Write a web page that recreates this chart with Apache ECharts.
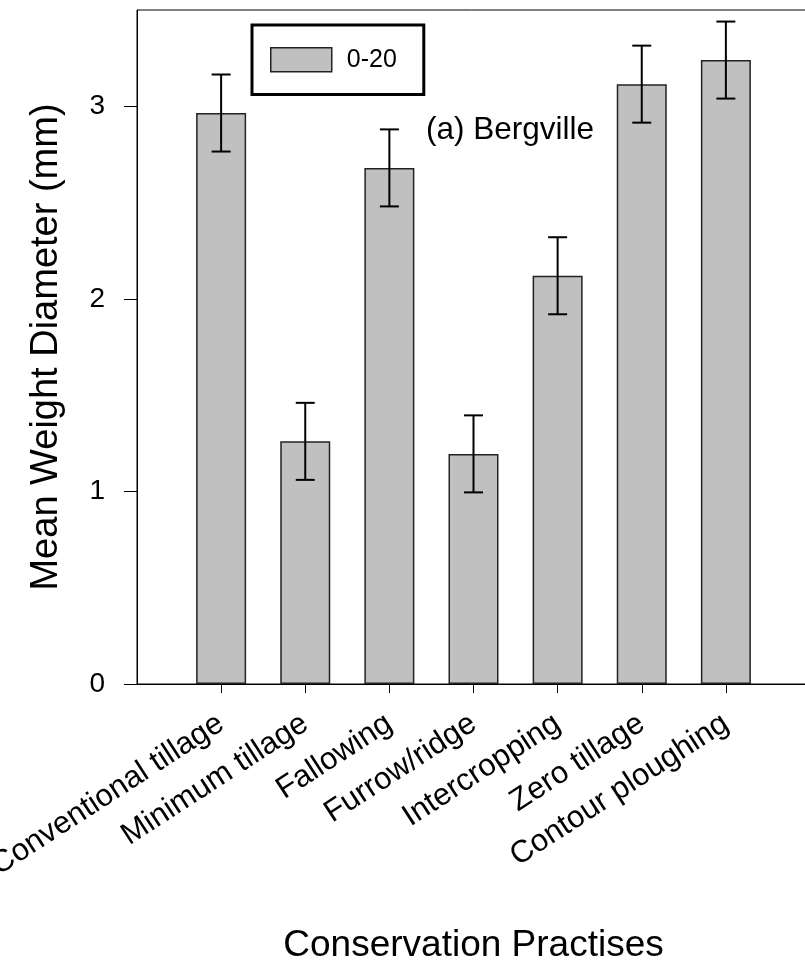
<!DOCTYPE html>
<html>
<head>
<meta charset="utf-8">
<script src="https://cdn.jsdelivr.net/npm/echarts@6/dist/echarts.min.js"></script>
<style>
  html, body { margin: 0; padding: 0; background: #fff; }
  #chart { width: 805px; height: 961px; }
</style>
</head>
<body>
<div id="chart"></div>
<script>
var categories = ['Conventional tillage', 'Minimum tillage', 'Fallowing', 'Furrow/ridge',
                  'Intercropping', 'Zero tillage', 'Contour ploughing'];
var positions = [1, 2, 3, 4, 5, 6, 7];
var mwd = [2.965, 1.26, 2.68, 1.195, 2.12, 3.115, 3.24];
var errs = [0.2, 0.2, 0.2, 0.2, 0.2, 0.2, 0.2];
var yTicks = [0, 1, 2, 3];

var fontFam = '"Liberation Sans", Arial, sans-serif';

var barData = positions.map(function (p, i) { return [p, mwd[i]]; });
var errData = positions.map(function (p, i) { return [p, mwd[i] - errs[i], mwd[i] + errs[i]]; });

var chart = echarts.init(document.getElementById('chart'));

var option = {
    backgroundColor: '#fff',
    animation: false,
    grid: {
        left: 137,
        top: 10,
        right: -5,
        bottom: 277,
        containLabel: false,
        outerBoundsMode: 'none',
        show: true,
        borderColor: '#000',
        borderWidth: 1
    },
    legend: {
        left: 252,
        top: 25,
        padding: [22, 27, 22, 18],
        borderColor: '#000',
        borderWidth: 3,
        itemWidth: 61,
        itemHeight: 24,
        icon: 'rect',
        itemStyle: { color: '#c0c0c0', borderColor: '#222', borderWidth: 1.5 },
        textStyle: { fontSize: 25, color: '#000', fontFamily: fontFam, padding: [0, 0, 0, 10] },
        data: ['0-20']
    },
    graphic: [{
        type: 'text',
        left: 426,
        top: 114,
        style: { text: '(a) Bergville', fontSize: 31.5, fill: '#000', fontFamily: fontFam }
    }],
    xAxis: {
        type: 'value',
        min: 0,
        max: 8,
        interval: 1,
        name: 'Conservation Practises',
        nameLocation: 'middle',
        nameGap: 243,
        nameTextStyle: { fontSize: 37, color: '#000', fontFamily: fontFam },
        axisLine: { show: true, lineStyle: { color: '#000', width: 1 } },
        axisTick: { show: true, inside: false, length: 9, customValues: positions, lineStyle: { color: '#000' } },
        axisLabel: {
            customValues: positions,
            rotate: 33,
            margin: 37,
            fontSize: 31,
            color: '#000',
            fontFamily: fontFam,
            formatter: function (v) { return categories[v - 1] || ''; }
        },
        splitLine: { show: false }
    },
    yAxis: {
        type: 'value',
        min: 0,
        max: 3.5,
        interval: 1,
        name: 'Mean Weight Diameter (mm)',
        nameLocation: 'middle',
        nameGap: 71,
        nameTextStyle: { fontSize: 38, color: '#000', fontFamily: fontFam },
        axisLine: { show: true, lineStyle: { color: '#000', width: 1 } },
        axisTick: { show: true, inside: false, length: 13, customValues: yTicks, lineStyle: { color: '#000' } },
        axisLabel: { customValues: yTicks, margin: 32, fontSize: 28, color: '#000', fontFamily: fontFam },
        splitLine: { show: false }
    },
    series: [{
        name: '0-20',
        type: 'bar',
        barWidth: 50,
        itemStyle: { color: '#c0c0c0', borderColor: '#222', borderWidth: 1.5 },
        data: barData,
        z: 2
    }, {
        type: 'custom',
        name: 'err',
        data: errData,
        z: 5,
        renderItem: function (params, api) {
            var x = api.value(0);
            var lo = api.coord([x, api.value(1)]);
            var hi = api.coord([x, api.value(2)]);
            var hw = 9.5;
            var st = { stroke: '#000', lineWidth: 2 };
            return {
                type: 'group',
                children: [
                    { type: 'line', shape: { x1: lo[0], y1: lo[1], x2: hi[0], y2: hi[1] }, style: st },
                    { type: 'line', shape: { x1: hi[0] - hw, y1: hi[1], x2: hi[0] + hw, y2: hi[1] }, style: st },
                    { type: 'line', shape: { x1: lo[0] - hw, y1: lo[1], x2: lo[0] + hw, y2: lo[1] }, style: st }
                ]
            };
        }
    }]
};

chart.setOption(option);
</script>
</body>
</html>
